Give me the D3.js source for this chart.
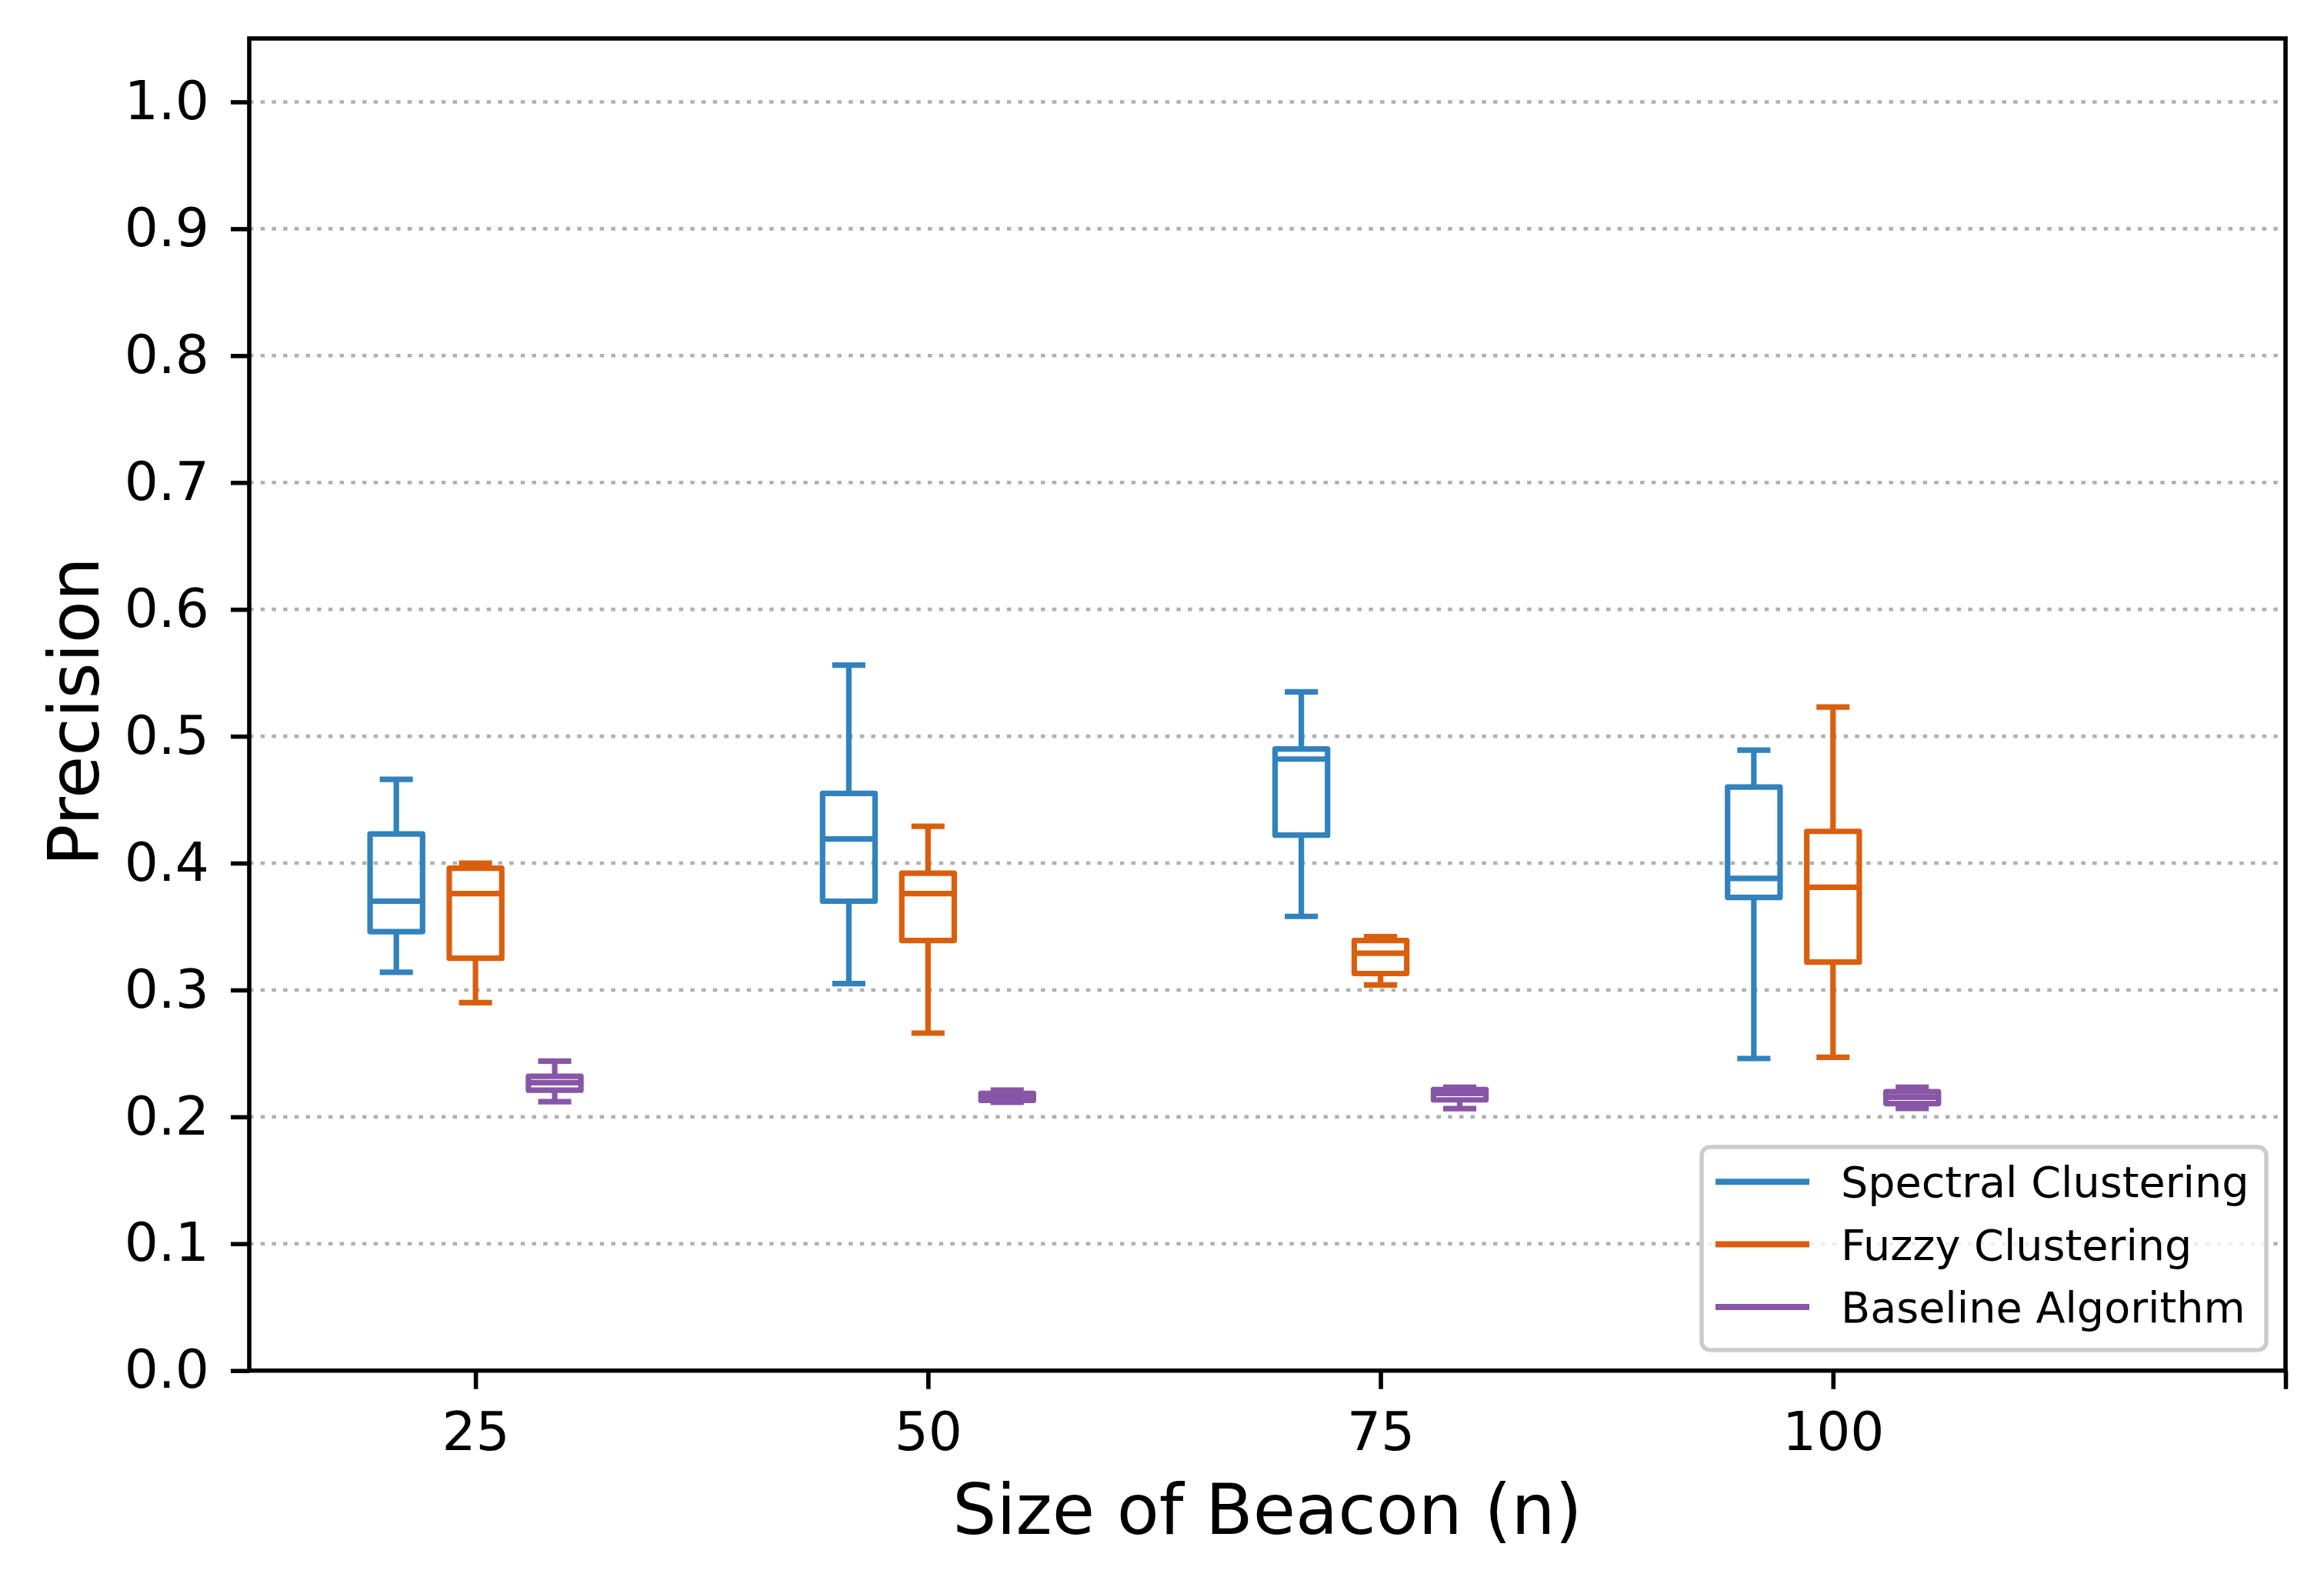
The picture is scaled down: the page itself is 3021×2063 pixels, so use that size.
<!DOCTYPE html>
<html>
<head>
<meta charset="utf-8">
<script src="https://cdn.jsdelivr.net/npm/d3@7"></script>
<style>
  html, body { margin: 0; padding: 0; background: #ffffff; }
  svg { display: block; font-family: "DejaVu Sans", sans-serif; }
</style>
</head>
<body>
<svg id="chart" width="3021" height="2063"></svg>
<script>
// ---------------- data ----------------
const categories = [25, 50, 75, 100];
const xTickValues = [25, 50, 75, 100, 125];
const xTickLabels = ["25", "50", "75", "100", ""];
const yTickValues = [0.0, 0.1, 0.2, 0.3, 0.4, 0.5, 0.6, 0.7, 0.8, 0.9, 1.0];

const seriesNames = ["Spectral Clustering", "Fuzzy Clustering", "Baseline Algorithm"];
const seriesColors = ["#3182bd", "#d95f0e", "#8856a7"];
const seriesOffsets = [-4.375, 0, 4.375];

const spectralWhisLo = [0.314, 0.305, 0.358, 0.246];
const spectralQ1     = [0.346, 0.370, 0.422, 0.373];
const spectralMed    = [0.370, 0.419, 0.482, 0.388];
const spectralQ3     = [0.423, 0.455, 0.490, 0.460];
const spectralWhisHi = [0.466, 0.556, 0.535, 0.489];

const fuzzyWhisLo = [0.290, 0.266, 0.304, 0.247];
const fuzzyQ1     = [0.325, 0.339, 0.313, 0.322];
const fuzzyMed    = [0.376, 0.376, 0.329, 0.381];
const fuzzyQ3     = [0.396, 0.392, 0.339, 0.425];
const fuzzyWhisHi = [0.400, 0.429, 0.342, 0.523];

const baseWhisLo = [0.212, 0.2115, 0.2065, 0.2066];
const baseQ1     = [0.221, 0.2130, 0.2134, 0.2105];
const baseMed    = [0.227, 0.2155, 0.2185, 0.2155];
const baseQ3     = [0.232, 0.2185, 0.2215, 0.2199];
const baseWhisHi = [0.244, 0.2210, 0.2233, 0.2233];

const seriesStats = [
  [spectralWhisLo, spectralQ1, spectralMed, spectralQ3, spectralWhisHi],
  [fuzzyWhisLo, fuzzyQ1, fuzzyMed, fuzzyQ3, fuzzyWhisHi],
  [baseWhisLo, baseQ1, baseMed, baseQ3, baseWhisHi]
];

// ---------------- layout ----------------
const plot = { left: 324, right: 2971, top: 50, bottom: 1781.7 };
const boxWidth = 2.9;    // data units
const capWidth = 1.83;   // data units
const lw = 7.2;

const svg = d3.select("#chart");
const x = d3.scaleLinear().domain([12.5, 125]).range([plot.left, plot.right]);
const y = d3.scaleLinear().domain([0, 1.05]).range([plot.bottom, plot.top]);

// grid
svg.append("g").selectAll("line")
  .data(yTickValues.filter(d => d > 0))
  .join("line")
  .attr("x1", plot.left).attr("x2", plot.right)
  .attr("y1", d => y(d)).attr("y2", d => y(d))
  .attr("stroke", "#b0b0b0")
  .attr("stroke-width", 4.6)
  .attr("stroke-dasharray", "5.5 9.2");

// boxes
const boxG = svg.append("g");
seriesStats.forEach((stats, si) => {
  const [lo, q1, med, q3, hi] = stats;
  const color = seriesColors[si];
  categories.forEach((c, i) => {
    const cx = c + seriesOffsets[si];
    const g = boxG.append("g")
      .attr("stroke", color).attr("stroke-width", lw).attr("fill", "none");
    g.append("line").attr("x1", x(cx)).attr("x2", x(cx))
      .attr("y1", y(q1[i])).attr("y2", y(lo[i]));
    g.append("line").attr("x1", x(cx)).attr("x2", x(cx))
      .attr("y1", y(q3[i])).attr("y2", y(hi[i]));
    g.append("line").attr("x1", x(cx - capWidth / 2)).attr("x2", x(cx + capWidth / 2))
      .attr("y1", y(lo[i])).attr("y2", y(lo[i]));
    g.append("line").attr("x1", x(cx - capWidth / 2)).attr("x2", x(cx + capWidth / 2))
      .attr("y1", y(hi[i])).attr("y2", y(hi[i]));
    g.append("path")
      .attr("d", `M${x(cx - boxWidth / 2)},${y(q1[i])}H${x(cx + boxWidth / 2)}V${y(q3[i])}H${x(cx - boxWidth / 2)}Z`)
      .attr("stroke-linejoin", "round");
    g.append("line").attr("x1", x(cx - boxWidth / 2)).attr("x2", x(cx + boxWidth / 2))
      .attr("y1", y(med[i])).attr("y2", y(med[i]));
  });
});

// axes
const yAxis = d3.axisLeft(y)
  .tickValues(yTickValues)
  .tickFormat(d3.format(".1f"))
  .tickSize(24).tickSizeOuter(0).tickPadding(28);
const yG = svg.append("g").attr("transform", `translate(${plot.left},0)`).call(yAxis);
yG.select(".domain").remove();
yG.selectAll(".tick line").attr("stroke", "#000").attr("stroke-width", 5.6);
yG.selectAll(".tick text").attr("font-size", 69.4).attr("fill", "#000")
  .attr("font-family", "DejaVu Sans");

const xAxis = d3.axisBottom(x)
  .tickValues(xTickValues)
  .tickFormat((d, i) => xTickLabels[i])
  .tickSize(24).tickSizeOuter(0).tickPadding(30);
const xG = svg.append("g").attr("transform", `translate(0,${plot.bottom})`).call(xAxis);
xG.select(".domain").remove();
xG.selectAll(".tick line").attr("stroke", "#000").attr("stroke-width", 5.6);
xG.selectAll(".tick text").attr("font-size", 69.4).attr("fill", "#000")
  .attr("font-family", "DejaVu Sans");

// spines
svg.append("rect")
  .attr("x", plot.left).attr("y", plot.top)
  .attr("width", plot.right - plot.left).attr("height", plot.bottom - plot.top)
  .attr("fill", "none").attr("stroke", "#000").attr("stroke-width", 5.6);

// axis labels
svg.append("text")
  .attr("x", (plot.left + plot.right) / 2).attr("y", 1994)
  .attr("text-anchor", "middle").attr("font-size", 90).attr("fill", "#000")
  .text("Size of Beacon (n)");
svg.append("text")
  .attr("transform", `translate(128,925) rotate(-90)`)
  .attr("text-anchor", "middle").attr("font-size", 90).attr("fill", "#000")
  .text("Precision");

// legend
const leg = svg.append("g");
leg.append("rect")
  .attr("x", 2212).attr("y", 1491).attr("width", 734).attr("height", 264)
  .attr("rx", 11).attr("ry", 11)
  .attr("fill", "#ffffff").attr("fill-opacity", 0.8)
  .attr("stroke", "#cccccc").attr("stroke-width", 5.6);
const legY = [1536.3, 1617.6, 1699.0];
seriesNames.forEach((name, i) => {
  leg.append("line")
    .attr("x1", 2230).attr("x2", 2352)
    .attr("y1", legY[i]).attr("y2", legY[i])
    .attr("stroke", seriesColors[i]).attr("stroke-width", 8);
  leg.append("text")
    .attr("x", 2393).attr("y", legY[i] + 20)
    .attr("font-size", 55.6).attr("fill", "#000")
    .text(name);
});
</script>
</body>
</html>
